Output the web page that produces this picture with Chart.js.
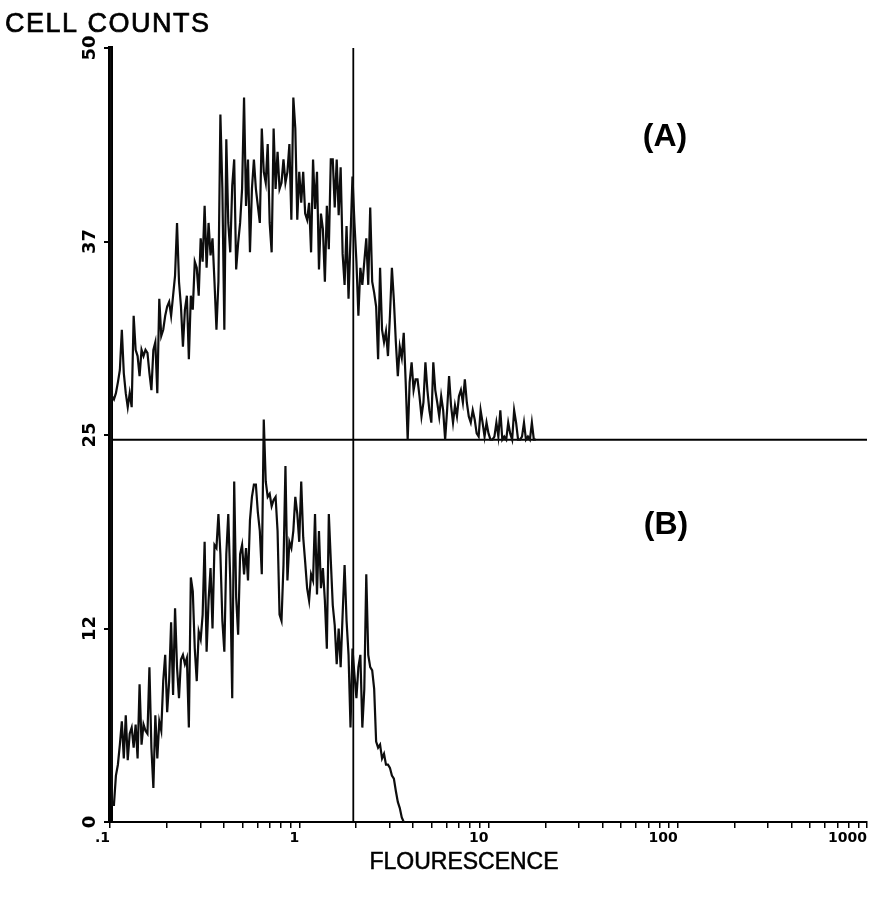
<!DOCTYPE html>
<html>
<head>
<meta charset="utf-8">
<script src="https://cdn.jsdelivr.net/npm/chart.js@4/dist/chart.umd.min.js"></script>
<style>
  html, body { margin: 0; padding: 0; background: #fff; }
  #wrap { width: 869px; height: 898px; }
</style>
</head>
<body>
<div id="wrap"><canvas id="histo" width="869" height="898"></canvas></div>
<script>
// Log-amplified histogram: channel i sits at 0.1 * 10^(i / CHANNELS_PER_DECADE)
const CHANNELS_PER_DECADE = 96;
const FIRST_CHANNEL = 0.1;

// Axis ticks
const xDecades = [0.1, 1, 10, 100, 1000];
const xTickLabels = ['.1', '1', '10', '100', '1000'];
const yTickValues = [0, 12.5, 25, 37.5, 50];
const yTickLabels = ['0', '12', '25', '37', '50'];

// Panel (A) is stacked on top of panel (B); its zero sits on this line
const panelABaseline = 24.7;
// Marker (gate) position on the fluorescence axis
const gateFluorescence = 1.93;

// Cell counts per channel, panel (A)  (first channel is off scale)
const countsA = [
  26, 2.8, 2.6, 3.0, 3.7, 4.5, 7.1, 4.3, 3.0, 2.1,
  3.0, 2.1, 8.0, 5.8, 5.4, 4.1, 5.8, 5.4, 5.8, 5.6,
  4.3, 3.2, 5.8, 6.3, 3.0, 9.1, 6.7, 7.1, 8.0, 8.6,
  8.9, 8.0, 9.3, 10.6, 14.0, 10.2, 8.6, 6.0, 8.4, 9.3,
  5.2, 9.3, 8.4, 11.5, 11.1, 9.3, 13.0, 11.5, 15.1, 11.1,
  14.0, 11.9, 13.0, 10.2, 7.1, 10.2, 21.0, 16.2, 7.1, 19.4,
  14.0, 12.1, 16.4, 18.1, 11.0, 12.7, 14.0, 16.2, 22.1, 15.1,
  18.1, 12.1, 16.2, 18.1, 16.2, 15.1, 14.0, 20.1, 17.3, 16.6,
  19.1, 14.0, 12.1, 20.1, 16.2, 18.6, 16.2, 16.6, 18.1, 16.6,
  17.3, 19.1, 14.2, 22.1, 20.1, 14.2, 17.3, 15.3, 17.3, 14.6,
  14.2, 15.3, 12.1, 18.1, 14.9, 17.3, 11.0, 14.6, 13.6, 10.2,
  15.1, 12.3, 18.1, 18.1, 15.0, 18.1, 14.5, 17.6, 12.0, 10.0,
  13.8, 9.1, 13.0, 17.0, 14.0, 11.5, 8.0, 11.1, 10.0, 11.5,
  13.0, 10.0, 15.0, 10.2, 9.5, 8.6, 5.2, 11.1, 7.1, 6.3,
  7.0, 5.4, 8.0, 11.1, 9.0, 6.3, 4.1, 6.0, 5.3, 6.9,
  3.7, 0, 3.7, 5.0, 3.2, 3.9, 3.9, 2.8, 1.5, 2.4,
  5.0, 3.2, 1.9, 1.1, 5.0, 3.2, 2.4, 1.5, 2.8, 1.9,
  0, 1.9, 4.1, 2.2, 1.1, 2.2, 1.5, 2.8, 3.2, 2.4,
  3.9, 2.4, 1.5, 1.1, 1.9, 1.3, 0.4, 0.2, 1.9, 1.1,
  0.2, 1.1, 0.4, 0, 0, 0.2, 1.1, 0.2, 1.9, 0,
  0.2, 0, 1.1, 0.4, 0, 1.9, 1.1, 0, 0, 0.2,
  1.1, 0, 0.2, 0, 1.1, 0, 0
];

// Cell counts per channel, panel (B)  (first channel is off scale)
const countsB = [
  50, 1.1, 1.1, 3.0, 3.7, 5.0, 6.5, 4.1, 6.9, 4.0,
  5.7, 6.1, 4.8, 6.3, 4.1, 8.9, 5.0, 6.3, 5.9, 5.7,
  10.0, 4.8, 2.2, 6.9, 4.1, 6.5, 5.9, 9.1, 10.8, 7.1,
  9.1, 12.9, 8.2, 13.8, 10.0, 8.0, 10.5, 10.8, 10.2, 10.6,
  6.1, 15.8, 14.9, 11.2, 9.1, 12.3, 11.8, 13.4, 18.1, 11.0,
  14.3, 16.4, 12.5, 17.9, 17.7, 19.9, 17.3, 13.0, 11.0, 17.3,
  19.9, 15.6, 8.0, 22.0, 14.5, 12.1, 17.3, 17.9, 16.0, 17.7,
  15.6, 19.5, 21.0, 21.8, 21.8, 20.0, 18.8, 16.0, 26.0, 22.0,
  21.0, 21.2, 20.4, 20.8, 21.0, 18.8, 13.4, 13.0, 16.6, 23.0,
  15.6, 18.1, 17.7, 18.8, 21.0, 19.9, 18.1, 22.0, 18.4, 16.8,
  15.1, 14.3, 16.0, 15.6, 19.9, 14.7, 18.8, 15.1, 16.4, 14.3,
  11.2, 19.9, 16.9, 14.0, 12.7, 10.2, 12.5, 10.0, 13.4, 16.6,
  13.0, 10.8, 6.1, 11.2, 9.5, 8.0, 10.0, 10.8, 6.1, 8.6,
  16.0, 10.8, 10.0, 9.8, 8.6, 5.2, 4.8, 5.0, 4.1, 4.4,
  3.7, 3.7, 3.5, 3.0, 2.8, 2.0, 1.3, 0.9, 0.3, 0
];

const channelValue = i => FIRST_CHANNEL * Math.pow(10, i / CHANNELS_PER_DECADE);

// Tick marks at 1..9 of every decade, then the last decade
const xTickValues = [];
xDecades.slice(0, -1).forEach(d => {
  for (let m = 1; m <= 9; m++) xTickValues.push(m === 1 ? d : m * d);
});
xTickValues.push(xDecades[xDecades.length - 1]);

const black = '#000';
const traceStyle = {
  borderColor: '#0d0d0d', borderWidth: 2.2, pointRadius: 0,
  stepped: false, fill: false, borderJoinStyle: 'miter'
};

const datasetA = countsA.map((c, i) => ({ x: channelValue(i), y: panelABaseline + c }));
const datasetB = countsB.map((c, i) => ({ x: channelValue(i), y: c }));

// Labels drawn on top of the plot
const textLayer = {
  id: 'textLayer',
  afterDraw(chart) {
    const { ctx } = chart;
    ctx.save();
    ctx.fillStyle = black;
    ctx.strokeStyle = black;
    ctx.textBaseline = 'alphabetic';

    ctx.font = '27px "Liberation Sans", Arial, sans-serif';
    ctx.letterSpacing = '1.5px';
    ctx.textAlign = 'left';
    ctx.lineWidth = 0.7;
    ctx.fillText('CELL COUNTS', 5, 32);
    ctx.strokeText('CELL COUNTS', 5, 32);

    ctx.letterSpacing = '0px';
    ctx.font = '23px "Liberation Sans", Arial, sans-serif';
    ctx.textAlign = 'center';
    ctx.lineWidth = 0.5;
    ctx.fillText('FLOURESCENCE', 464, 869);
    ctx.strokeText('FLOURESCENCE', 464, 869);

    ctx.font = 'bold 32px "Liberation Sans", Arial, sans-serif';
    ctx.fillText('(A)', 665, 146);
    ctx.fillText('(B)', 666, 534);
    ctx.restore();
  }
};

new Chart(document.getElementById('histo'), {
  type: 'line',
  data: {
    datasets: [
      { label: 'A', data: datasetA, ...traceStyle },
      { label: 'B', data: datasetB, ...traceStyle },
      { label: 'divider', data: [{ x: xDecades[0], y: panelABaseline }, { x: xDecades[4], y: panelABaseline }],
        borderColor: black, borderWidth: 2, pointRadius: 0, clip: 4 },
      { label: 'gate', data: [{ x: gateFluorescence, y: yTickValues[0] }, { x: gateFluorescence, y: yTickValues[4] }],
        borderColor: black, borderWidth: 1.8, pointRadius: 0 }
    ]
  },
  options: {
    responsive: false,
    animation: false,
    devicePixelRatio: 1,
    layout: { padding: { left: 0, right: 2, top: 48, bottom: 0 } },
    plugins: { legend: { display: false }, tooltip: { enabled: false }, title: { display: false } },
    elements: { line: { tension: 0 } },
    scales: {
      x: {
        type: 'logarithmic',
        min: xDecades[0],
        max: xDecades[4],
        afterBuildTicks: s => { s.ticks = xTickValues.map(v => ({ value: v })); },
        afterFit: s => { s.height = 76; },
        ticks: {
          autoSkip: false, maxRotation: 0, minRotation: 0, align: 'end', padding: 2,
          color: black,
          font: { family: '"DejaVu Sans", sans-serif', weight: 'bold', size: 14 },
          callback: v => {
            const k = xDecades.indexOf(v);
            return k >= 0 ? xTickLabels[k] : '';
          }
        },
        grid: { drawOnChartArea: false, drawTicks: true, tickLength: 6, color: black, lineWidth: 1.5 },
        border: { display: true, color: black, width: 2 }
      },
      y: {
        min: yTickValues[0],
        max: yTickValues[4],
        afterBuildTicks: s => { s.ticks = yTickValues.map(v => ({ value: v })); },
        afterFit: s => { s.width = 110; },
        ticks: {
          autoSkip: false, minRotation: 90, maxRotation: 90, crossAlign: 'center', padding: 1,
          color: black,
          font: { family: '"DejaVu Sans", sans-serif', weight: 'bold', size: 18 },
          callback: v => {
            const k = yTickValues.indexOf(v);
            return k >= 0 ? yTickLabels[k] : '';
          }
        },
        grid: { drawOnChartArea: false, drawTicks: true, tickLength: 6, color: black, lineWidth: 2 },
        border: { display: true, color: black, width: 5 }
      }
    }
  },
  plugins: [textLayer]
});
</script>
</body>
</html>
